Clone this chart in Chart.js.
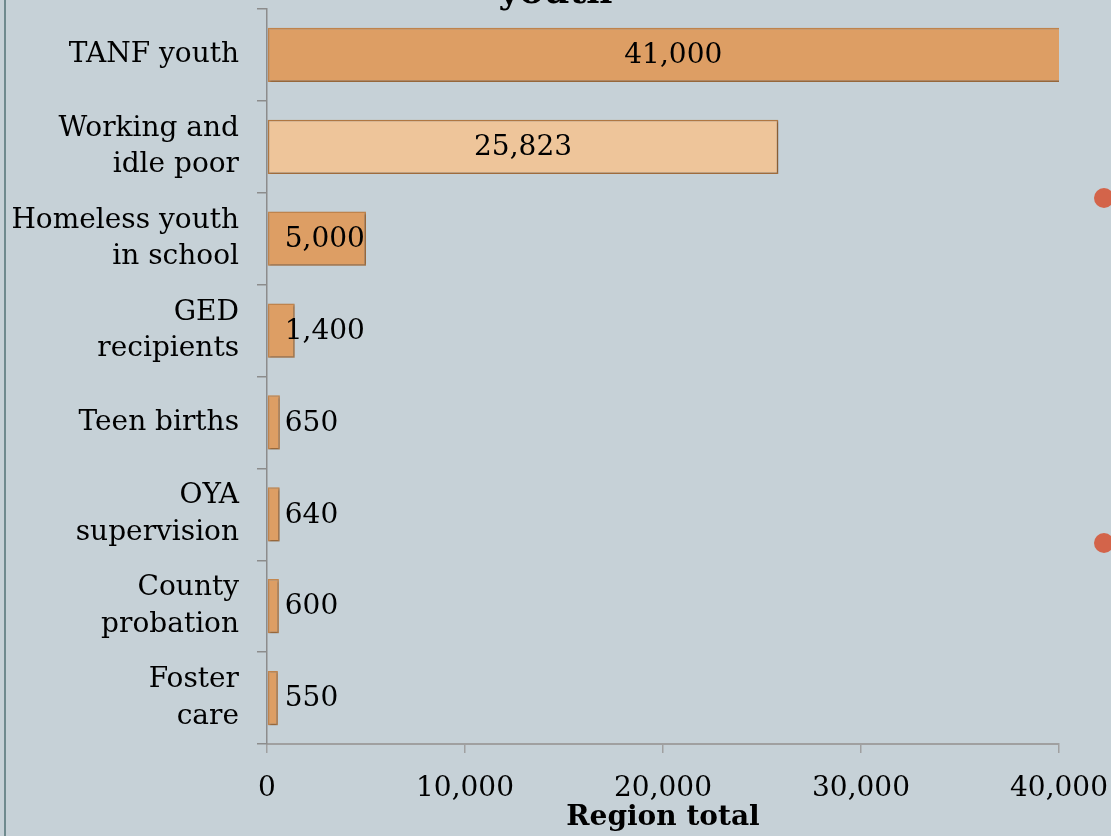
<!DOCTYPE html>
<html>
<head>
<meta charset="utf-8">
<script src="https://cdn.jsdelivr.net/npm/chart.js@4"></script>
<style>
    html, body { margin: 0; padding: 0; background: #c6d1d7; }
    #wrap { position: relative; width: 1111px; height: 836px; overflow: hidden; background: #c6d1d7; }
    #wrap canvas { position: absolute; left: 0; top: 0; }
    .edge { position: absolute; left: 4px; top: 0; width: 2px; height: 836px; background: #6f8a8e; }
    .dot { position: absolute; width: 20px; height: 20px; border-radius: 50%; background: #d3644a; }
</style>
</head>
<body>
<div id="wrap">
    <canvas id="grafica" width="1111" height="836"></canvas>
    <div class="edge"></div>
    <div class="dot" style="left:1094px; top:188px;"></div>
    <div class="dot" style="left:1094px; top:533px;"></div>
</div>
<script>
// Datos de la grafica
const categorias = [
    'TANF youth',
    ['Working and', 'idle poor'],
    ['Homeless youth', 'in school'],
    ['GED', 'recipients'],
    'Teen births',
    ['OYA', 'supervision'],
    ['County', 'probation'],
    ['Foster', 'care']
];
const valores = [41000, 25823, 5000, 1400, 650, 640, 600, 550];
const ticksX = [0, 10000, 20000, 30000, 40000];
const tituloGrafica = 'youth';
const tituloEjeX = 'Region total';

const fuente = 'DejaVu Serif';
const coloresFondo = valores.map((v, i) => i === 1 ? '#eec59a' : '#dd9e64');
const coloresBorde = valores.map((v, i) => i === 1 ? '#b47a44' : '#c4874e');

// Titulo cortado en la parte superior
const pluginTitulo = {
    id: 'tituloCortado',
    afterDraw(chart) {
        const ctx = chart.ctx;
        ctx.save();
        ctx.font = 'bold 36px "' + fuente + '"';
        ctx.fillStyle = '#000';
        ctx.textAlign = 'center';
        ctx.textBaseline = 'alphabetic';
        ctx.fillText(tituloGrafica, chart.width / 2, 3);
        ctx.restore();
    }
};

// Sombra de las barras
const pluginSombra = {
    id: 'sombra',
    beforeDatasetsDraw(chart) {
        const ctx = chart.ctx;
        ctx.save();
        ctx.shadowColor = 'rgba(0,0,0,0.35)';
        ctx.shadowOffsetX = 1;
        ctx.shadowOffsetY = 1;
        ctx.shadowBlur = 2;
    },
    afterDatasetsDraw(chart) {
        chart.ctx.restore();
    }
};

// Etiquetas de valor
const pluginEtiquetas = {
    id: 'etiquetas',
    afterDatasetsDraw(chart) {
        const ctx = chart.ctx;
        const meta = chart.getDatasetMeta(0);
        ctx.save();
        ctx.font = '28px "' + fuente + '"';
        ctx.fillStyle = '#000';
        ctx.textAlign = 'left';
        ctx.textBaseline = 'middle';
        meta.data.forEach(function (bar, i) {
            const texto = valores[i].toLocaleString('en-US');
            const w = ctx.measureText(texto).width;
            const centro = (bar.x + bar.base) / 2;
            const x = Math.max(centro - w / 2, bar.base + 17);
            ctx.fillText(texto, x, bar.y + 1);
        });
        ctx.restore();
    }
};

const ctx = document.getElementById('grafica').getContext('2d');
new Chart(ctx, {
    type: 'bar',
    data: {
        labels: categorias,
        datasets: [{
                data: valores,
                backgroundColor: coloresFondo,
                borderColor: coloresBorde,
                borderWidth: 1.5,
                borderSkipped: false,
                barPercentage: 0.59,
                categoryPercentage: 1
            }]
    },
    options: {
        indexAxis: 'y',
        responsive: false,
        animation: false,
        layout: {
            padding: { top: 9, right: 52, left: 0, bottom: 0 }
        },
        plugins: {
            legend: { display: false },
            tooltip: { enabled: false }
        },
        scales: {
            x: {
                min: 0,
                max: 40000,
                afterBuildTicks: function (scale) {
                    scale.ticks = ticksX.map(v => ({ value: v }));
                },
                afterFit: function (scale) {
                    scale.height = 92;
                    scale.paddingLeft = 0;
                    scale.paddingRight = 0;
                },
                grid: {
                    drawOnChartArea: false,
                    tickLength: 9,
                    color: '#a0a0a0',
                    lineWidth: 1.5
                },
                border: { color: '#a0a0a0', width: 2 },
                ticks: {
                    padding: 19,
                    color: '#000',
                    maxRotation: 0,
                    font: { family: fuente, size: 28 },
                    callback: function (value) {
                        return value.toLocaleString('en-US');
                    }
                },
                title: {
                    display: true,
                    text: tituloEjeX,
                    color: '#000',
                    padding: { top: 0, bottom: 1 },
                    font: { family: fuente, size: 28, weight: 'bold', lineHeight: 1.2 }
                }
            },
            y: {
                afterFit: function (scale) {
                    scale.width = 267;
                    scale.paddingTop = 0;
                    scale.paddingBottom = 0;
                },
                grid: {
                    drawOnChartArea: false,
                    offset: true,
                    tickLength: 10,
                    color: '#8c8c8c',
                    lineWidth: 1.5
                },
                border: { color: '#8c8c8c', width: 1.5 },
                ticks: {
                    padding: 18,
                    color: '#000',
                    font: { family: fuente, size: 28, lineHeight: 1.3 }
                }
            }
        }
    },
    plugins: [pluginSombra, pluginEtiquetas, pluginTitulo]
});
</script>
</body>
</html>
